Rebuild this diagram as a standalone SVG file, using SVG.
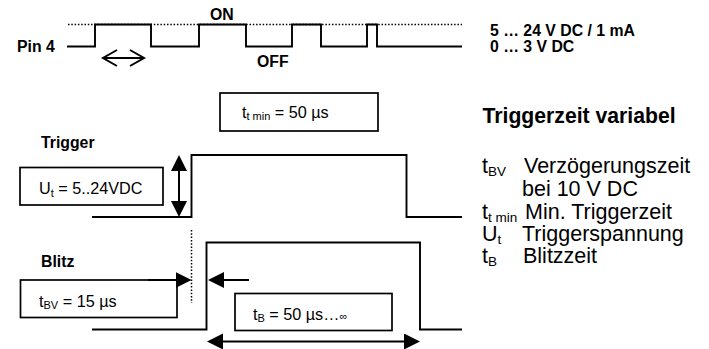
<svg xmlns="http://www.w3.org/2000/svg" width="709" height="349" viewBox="0 0 709 349">
<style>
  .w { fill: none; stroke: #000; stroke-width: 1.9; stroke-linejoin: miter; }
  .box { fill: #fff; stroke: #000; stroke-width: 1.7; }
  .dot { fill: none; stroke: #000; stroke-width: 1.5; stroke-dasharray: 1.5 1.8; }
  .ln { fill: none; stroke: #000; stroke-width: 2; }
  .b { font-family: "Liberation Sans", Arial, sans-serif; font-weight: bold; fill: #000; }
  .r { font-family: "Liberation Sans", Arial, sans-serif; fill: #000; }
  .sm { font-size: 15.8px; }
  .bx { font-size: 16.2px; }
  .lg { font-size: 21.5px; }
  .hd { font-size: 21.2px; }
</style>
<defs>
  <marker id="fa" markerUnits="userSpaceOnUse" markerWidth="17" markerHeight="17" refX="10" refY="8" orient="auto-start-reverse">
    <path d="M0,0 L16,8 L0,16 Z" fill="#000"/>
  </marker>
  <marker id="oa" markerUnits="userSpaceOnUse" markerWidth="20" markerHeight="20" refX="15" refY="9" orient="auto-start-reverse">
    <path d="M1,1 L15,9 L1,17" fill="none" stroke="#000" stroke-width="2"/>
  </marker>
</defs>

<g id="pin4-signal">
  <path class="dot" d="M68,24.5 H462"/>
  <path class="w" d="M67,46.5 H95 V24.5 H151 V46.5 H199 V24.5 H246 V46.5 H292 V24.5 H321 V46.5 H367 V24.5 H377 V46.5 H462"/>
  <text class="b sm" x="17" y="52">Pin 4</text>
  <text class="b sm" x="210" y="20">ON</text>
  <text class="b sm" x="257" y="67">OFF</text>
  <text class="b sm" x="490" y="35.5">5 … 24 V DC / 1 mA</text>
  <text class="b sm" x="490" y="52">0 … 3 V DC</text>
</g>

<g id="trigger-signal">
  <text class="b sm" x="41" y="147.5">Trigger</text>
  <path class="w" d="M92,217 H191.5 V155 H406.5 V217 H462"/>
</g>

<g id="box-ttmin">
  <rect class="box" x="220" y="93" width="158" height="38"/>
  <text class="r bx" x="242" y="118">t<tspan font-size="11" dy="2">t min</tspan><tspan dy="-2"> = 50 µs</tspan></text>
</g>

<g id="box-ut">
  <rect class="box" x="20" y="167.5" width="143" height="37.5"/>
  <text class="r bx" x="39" y="194">U<tspan font-size="11" dy="3">t</tspan><tspan dy="-3"> = 5..24VDC</tspan></text>
</g>

<g id="blitz-signal">
  <text class="b sm" x="41" y="266.5">Blitz</text>
  <path class="dot" d="M191.5,230 V303"/>
  <path class="w" d="M92,329.5 H206.5 V242.5 H420 V329.5 H462"/>
</g>

<g id="box-tbv">
  <rect class="box" x="20.5" y="280" width="156.5" height="37.5"/>
  <text class="r bx" x="39" y="307">t<tspan font-size="11" dy="2">BV</tspan><tspan dy="-2"> = 15 µs</tspan></text>
</g>

<g id="box-tb">
  <rect class="box" x="235" y="293.5" width="157" height="37"/>
  <text class="r bx" x="253" y="320">t<tspan font-size="11" dy="2">B</tspan><tspan dy="-2"> = 50 µs…</tspan><tspan font-size="11">∞</tspan></text>
</g>

<g id="connectors">
  <line class="ln" x1="103" y1="58" x2="144" y2="58" marker-start="url(#oa)" marker-end="url(#oa)"/>
  <line class="ln" x1="179" y1="161" x2="179" y2="211" marker-start="url(#fa)" marker-end="url(#fa)"/>
  <line class="ln" x1="148" y1="280" x2="185.5" y2="280" marker-end="url(#fa)"/>
  <line class="ln" x1="249" y1="280" x2="214" y2="280" marker-end="url(#fa)"/>
  <line class="ln" x1="213" y1="341.5" x2="414" y2="341.5" marker-start="url(#fa)" marker-end="url(#fa)"/>
</g>

<g id="legend">
  <text class="b hd" x="482.5" y="123">Triggerzeit variabel</text>
  <text class="r lg" x="482" y="173">t<tspan font-size="13.5" dy="3">BV</tspan></text>
  <text class="r lg" x="524" y="173">Verzögerungszeit</text>
  <text class="r lg" x="522" y="196">bei 10 V DC</text>
  <text class="r lg" x="482" y="219">t<tspan font-size="13.5" dy="3">t min</tspan></text>
  <text class="r lg" x="525" y="219">Min. Triggerzeit</text>
  <text class="r lg" x="482" y="241">U<tspan font-size="13.5" dy="3">t</tspan></text>
  <text class="r lg" x="522" y="241">Triggerspannung</text>
  <text class="r lg" x="482" y="263">t<tspan font-size="13.5" dy="3">B</tspan></text>
  <text class="r lg" x="523" y="263">Blitzzeit</text>
</g>
</svg>
